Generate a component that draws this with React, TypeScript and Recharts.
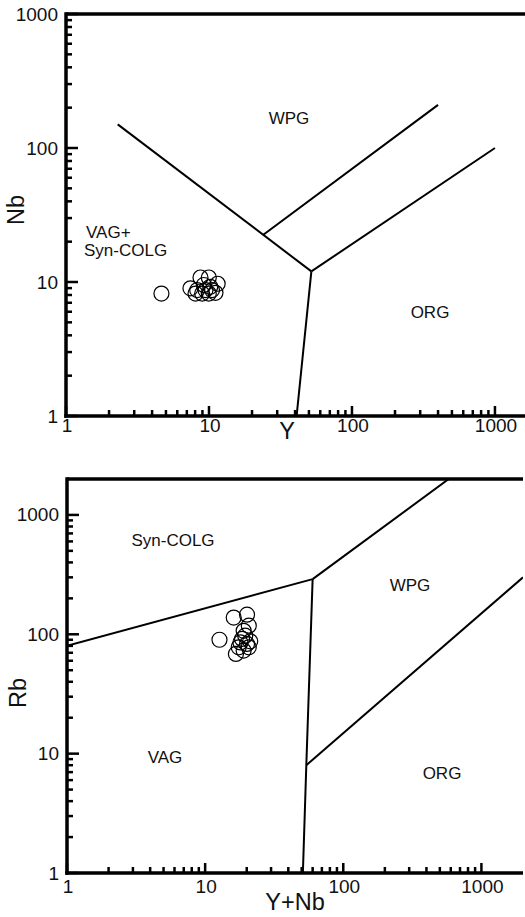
import React from 'react';
import { ScatterChart, Scatter, XAxis, YAxis, ReferenceLine } from 'recharts';

// top diagram: Nb vs Y
const yValues = [4.65, 8.72, 9.97, 11.5, 7.42, 8.27, 9.2, 10.2, 11.1, 8.05, 8.96, 9.97, 10.5, 9.45];
const nbValues = [8.2, 10.8, 10.8, 9.7, 8.97, 8.7, 9.5, 9.2, 8.3, 8.2, 8.2, 8.2, 8.7, 8.7];

// bottom diagram: Rb vs Y+Nb
const ynbValues = [16.1, 20.1, 12.7, 16.7, 20.7, 21.2, 18.5, 19.0, 20.7, 18.0, 19.5, 17.5, 20.1, 19.0];
const rbValues = [138, 146, 90, 68.4, 77.8, 87.3, 91.4, 107, 118, 85.5, 97.3, 77.8, 83, 73];

// field boundaries [x, y]
const nbBoundaryVagWpg = [[2.3, 150], [52, 12]];
const nbBoundaryOrgVag = [[52, 12], [41, 1]];
const nbBoundaryWpgOrg = [[52, 12], [1000, 100]];
const nbBoundaryInner = [[24, 22.5], [400, 210]];

const rbBoundaryColgVag = [[1, 80], [60, 290]];
const rbBoundaryColgWpg = [[60, 290], [580, 2000]];
const rbBoundaryVagRight = [[60, 290], [54, 8], [51, 1]];
const rbBoundaryWpgOrg = [[54, 8], [2000, 300]];

const logTicks = [
  1, 2, 3, 4, 5, 6, 7, 8, 9,
  10, 20, 30, 40, 50, 60, 70, 80, 90,
  100, 200, 300, 400, 500, 600, 700, 800, 900,
  1000];
const majorTicks = [1, 10, 100, 1000];

const FONT = '"Liberation Sans", Arial, sans-serif';

const toPts = (xs: number[], ys: number[]) => xs.map((x, i) => ({ x, y: ys[i] }));
const toSeg = (seg: number[][]) => seg.map(([x, y]) => ({ x, y }));

const makeXTick = (labelDy: number) => (props: any) => {
  const { x, y, payload } = props;
  const major = majorTicks.includes(payload.value);
  return (
    <g>
      <line x1={x} x2={x} y1={y} y2={y - (major ? 10 : 6)} stroke="#000" strokeWidth={2.5} />
      {major &&
      <text x={x + 1} y={y + labelDy} textAnchor="middle" dominantBaseline="central"
        fontSize={19} fill="#111" fontFamily={FONT}>
          {payload.value}
        </text>
      }
    </g>);
};

const YTick = (props: any) => {
  const { x, y, payload } = props;
  const major = majorTicks.includes(payload.value);
  return (
    <g>
      <line x1={x} x2={x + (major ? 12 : 6)} y1={y} y2={y} stroke="#000" strokeWidth={2.5} />
      {major &&
      <text x={x - 8} y={y} textAnchor="end" dominantBaseline="central"
        fontSize={19} fill="#111" fontFamily={FONT}>
          {payload.value}
        </text>
      }
    </g>);
};

const circle = (p: any) =>
<circle cx={p.cx} cy={p.cy} r={7.5} fill="none" stroke="#000" strokeWidth={1.2} />;

const noDot = () => <g />;

const axisLine = { stroke: '#000', strokeWidth: 3.5, strokeLinecap: 'square' as const };
const boundary = { stroke: '#000', strokeWidth: 2 };

function Txt({ x, y, children, size = 17, anchor = 'center', rotate = false }: any) {
  const tx = anchor === 'left' ? 'translate(0,-50%)' : 'translate(-50%,-50%)';
  return (
    <div
      style={{
        position: 'absolute',
        left: x,
        top: y,
        transform: tx + (rotate ? ' rotate(-90deg)' : ''),
        fontFamily: FONT,
        fontSize: size,
        lineHeight: 1,
        color: '#111',
        whiteSpace: 'nowrap'
      }}>
      {children}
    </div>);
}

function Diagram({ width, height, marginTop, yAxisWidth, xMax, yMax, labelDy, points, segments }: any) {
  return (
    <ScatterChart width={width} height={height} margin={{ top: marginTop, right: 0, bottom: 0, left: 0 }}>
      <XAxis type="number" dataKey="x" scale="log" domain={[1, xMax]} allowDataOverflow
        ticks={logTicks} interval={0} tickSize={0} tickMargin={0} height={44}
        axisLine={axisLine} tickLine={false} tick={makeXTick(labelDy)} />
      <YAxis type="number" dataKey="y" scale="log" domain={[1, yMax]} allowDataOverflow
        ticks={logTicks} interval={0} tickSize={0} tickMargin={0} width={yAxisWidth}
        axisLine={axisLine} tickLine={false} tick={YTick} />
      <ReferenceLine y={yMax} stroke="#000" strokeWidth={3.5} />
      {segments.map((seg: number[][], i: number) =>
      <Scatter key={`seg-${i}`} data={toSeg(seg)} line={boundary} lineType="joint"
        shape={noDot} isAnimationActive={false} />
      )}
      <Scatter data={points} shape={circle} isAnimationActive={false} />
    </ScatterChart>);
}

export default function App() {
  return (
    <div style={{ position: 'absolute', left: 0, top: 0, width: 525, height: 917, overflow: 'hidden', background: '#fff' }}>
      <div style={{ position: 'absolute', left: 0, top: 0 }}>
        <Diagram width={538} height={460} marginTop={14} yAxisWidth={66} xMax={2000} yMax={1000}
          labelDy={9} points={toPts(yValues, nbValues)}
          segments={[nbBoundaryVagWpg, nbBoundaryOrgVag, nbBoundaryWpgOrg, nbBoundaryInner]} />
      </div>
      <div style={{ position: 'absolute', left: 0, top: 460 }}>
        <Diagram width={523} height={457} marginTop={19} yAxisWidth={67} xMax={2000} yMax={2000}
          labelDy={13} points={toPts(ynbValues, rbValues)}
          segments={[rbBoundaryColgVag, rbBoundaryColgWpg, rbBoundaryVagRight, rbBoundaryWpgOrg]} />
      </div>

      <Txt x={16.5} y={210} size={23.5} rotate>Nb</Txt>
      <Txt x={287} y={432} size={23.5}>Y</Txt>
      <Txt x={289} y={118}>WPG</Txt>
      <Txt x={86} y={231.5} anchor="left">VAG+</Txt>
      <Txt x={84} y={250} anchor="left">Syn-COLG</Txt>
      <Txt x={430} y={312}>ORG</Txt>

      <Txt x={19} y={693} size={23.5} rotate>Rb</Txt>
      <Txt x={295} y={903} size={23.5}>Y+Nb</Txt>
      <Txt x={173} y={540}>Syn-COLG</Txt>
      <Txt x={410} y={585}>WPG</Txt>
      <Txt x={165} y={757}>VAG</Txt>
      <Txt x={442} y={773}>ORG</Txt>
    </div>);
}
